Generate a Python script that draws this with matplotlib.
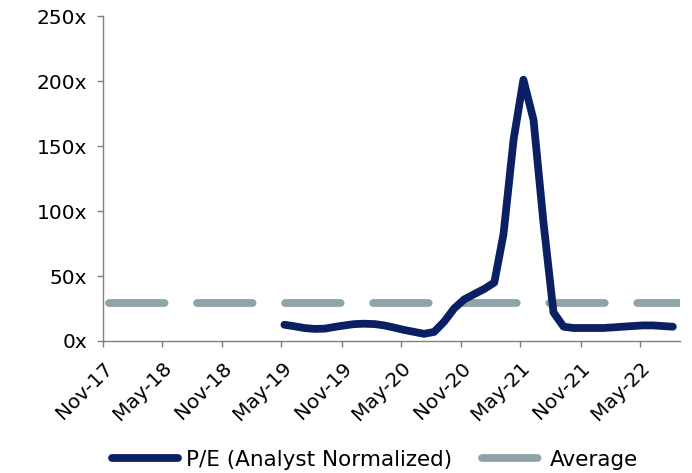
import matplotlib
matplotlib.use("Agg")
import matplotlib.pyplot as plt
import pandas as pd

# monthly P/E readings, May-19 to Aug-22
pe_values = [12.5, 11.3, 10.0, 9.3, 9.5, 10.8, 12.0, 13.0, 13.3, 13.0,
             12.0, 10.3, 8.5, 7.0, 5.5, 7.0, 15.0, 25.0, 32.0, 36.0,
             40.0, 45.0, 82.0, 155.0, 201.0, 170.0, 92.0, 22.0, 11.0, 10.0,
             10.0, 10.0, 10.0, 10.5, 11.0, 11.5, 12.0, 12.0, 11.5, 11.0]
pe_dates = pd.date_range("2019-05-01", periods=len(pe_values), freq="MS") + pd.Timedelta(days=9)
average_pe = 29.0

x_start = pd.Timestamp("2017-11-01")
x_end = pd.Timestamp("2022-09-01")
tick_dates = pd.date_range("2017-11-01", "2022-05-01", freq="6MS")
tick_labels = [d.strftime("%b-%y") for d in tick_dates]
y_ticks = [0, 50, 100, 150, 200, 250]

NAVY = "#0b1f63"
GREY = "#8fa4a8"
AXIS = "#7f7f7f"
FS = 14.5

plt.rcParams["font.family"] = ["DejaVu Sans"]
plt.rcParams["lines.scale_dashes"] = False

fig = plt.figure(figsize=(6.92, 4.73), dpi=100)
ax = fig.add_axes([103 / 692, 1 - 341 / 473, 577 / 692, 325 / 473])

ax.plot([x_start, x_end], [average_pe, average_pe], color=GREY, lw=5.6,
        linestyle=(59.1, (40, 23.4)), dash_capstyle="round", label="Average", zorder=2)
ax.plot(pe_dates, pe_values, color=NAVY, lw=5.6, solid_capstyle="round",
        solid_joinstyle="round", label="P/E (Analyst Normalized)", zorder=3)

ax.set_xlim(x_start, x_end)
ax.set_ylim(0, 250)
ax.set_yticks(y_ticks)
ax.set_yticklabels([f"{v}x" for v in y_ticks], fontsize=FS)
ax.set_xticks(tick_dates)
ax.set_xticklabels(tick_labels, rotation=45, ha="right", va="top",
                   rotation_mode="anchor", fontsize=FS)

for side in ["top", "right"]:
    ax.spines[side].set_visible(False)
for side in ["left", "bottom"]:
    ax.spines[side].set_color(AXIS)
    ax.spines[side].set_linewidth(1.0)
ax.tick_params(axis="both", color=AXIS, length=4.5, width=1.0)
ax.tick_params(axis="y", pad=7)
ax.tick_params(axis="x", pad=8)

handles, labels = ax.get_legend_handles_labels()
fig.legend(handles[::-1], labels[::-1], loc="center",
           bbox_to_anchor=(375 / 692, 1 - 460 / 473), ncol=2, frameon=False,
           fontsize=15.5, handlelength=3.1, handletextpad=0.35, columnspacing=1.1)

fig.savefig("out.png", dpi=100)
